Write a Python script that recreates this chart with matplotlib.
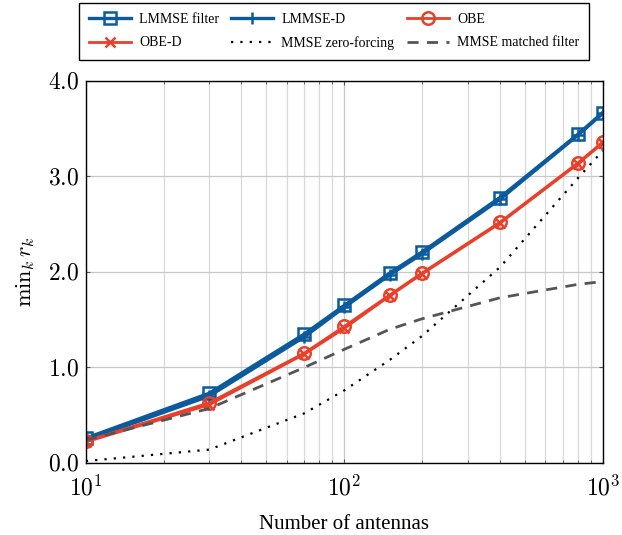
import math
import matplotlib.pyplot as plt
from matplotlib.ticker import FixedLocator, FuncFormatter, LogLocator, NullFormatter

plt.rcParams["font.family"] = ["Liberation Serif", "DejaVu Serif"]
plt.rcParams["mathtext.fontset"] = "cm"

antennas = [10, 30, 70, 100, 150, 200, 400, 800, 1000]
lmmse = [0.26, 0.73, 1.35, 1.65, 1.99, 2.21, 2.78, 3.44, 3.67]
lmmse_d = [0.24, 0.70, 1.32, 1.63, 1.97, 2.19, 2.76, 3.43, 3.66]
obe = [0.23, 0.63, 1.15, 1.43, 1.76, 1.99, 2.52, 3.14, 3.36]
obe_d = [0.22, 0.61, 1.14, 1.41, 1.75, 1.98, 2.51, 3.13, 3.35]
mmse_zf = [0.02, 0.14, 0.52, 0.76, 1.08, 1.33, 2.05, 2.98, 3.27]
mmse_mf = [0.24, 0.57, 1.00, 1.19, 1.40, 1.51, 1.73, 1.87, 1.90]

blue = "#0b5a9c"
red = "#e8402a"

fig = plt.figure(figsize=(6.22, 5.35), dpi=100)
ax = fig.add_axes([0.138, 0.1346, 0.831, 0.714])

h1, = ax.plot(antennas, lmmse, color=blue, lw=2.4, marker="s", ms=9, mfc="none", mew=1.8, label="LMMSE filter")
h2, = ax.plot(antennas, lmmse_d, color=blue, lw=2.4, marker="+", ms=9, mew=1.8, label="LMMSE-D")
h3, = ax.plot(antennas, obe, color=red, lw=2.0, marker="o", ms=9, mfc="none", mew=1.8, label="OBE")
h4, = ax.plot(antennas, obe_d, color=red, lw=2.0, marker="x", ms=7, mew=1.8, label="OBE-D")
h5, = ax.plot(antennas, mmse_zf, color="black", lw=1.6, ls=(0, (1, 3.2)), label="MMSE zero-forcing")
h6, = ax.plot(antennas, mmse_mf, color="#555555", lw=2.0, ls=(0, (4, 3)), label="MMSE matched filter")

ax.set_xscale("log")
ax.set_xlim(10, 1000)
ax.set_ylim(0, 4)
ax.xaxis.set_major_locator(FixedLocator([10, 100, 1000]))
ax.xaxis.set_major_formatter(FuncFormatter(lambda v, p: r"$10^{%d}$" % round(math.log10(v))))
ax.xaxis.set_minor_locator(LogLocator(base=10, subs=range(2, 10)))
ax.xaxis.set_minor_formatter(NullFormatter())
ax.set_yticks([0, 1, 2, 3, 4])
ax.yaxis.set_major_formatter(FuncFormatter(lambda v, p: r"$%.1f$" % v))

ax.grid(True, which="major", color="#c8c8c8", lw=0.9)
ax.grid(True, which="minor", axis="x", color="#d8d8d8", lw=0.9)
ax.set_axisbelow(True)
ax.tick_params(which="both", direction="in", labelsize=17, length=3, color="#555555", top=True, right=True)
ax.tick_params(axis="x", pad=9)
ax.tick_params(axis="y", pad=5)
ax.tick_params(which="minor", length=2)
for s in ax.spines.values():
    s.set_color("black")
    s.set_linewidth(1.0)

ax.set_xlabel("Number of antennas", fontsize=15, labelpad=10)
ax.set_ylabel(r"$\mathrm{min}_k\, r_k$", fontsize=16, labelpad=8)

# row-wise order for a 3-column legend
handles = [h1, h4, h2, h5, h3, h6]
ax.legend(handles, [h.get_label() for h in handles], loc="lower center",
          bbox_to_anchor=(0.48, 1.055), ncol=3, fontsize=10, frameon=True,
          fancybox=False, edgecolor="black", handlelength=3.0, handletextpad=0.6,
          columnspacing=0.9, labelspacing=0.75, borderpad=0.7, borderaxespad=0,
          framealpha=1)

fig.savefig("out.png", dpi=100)
